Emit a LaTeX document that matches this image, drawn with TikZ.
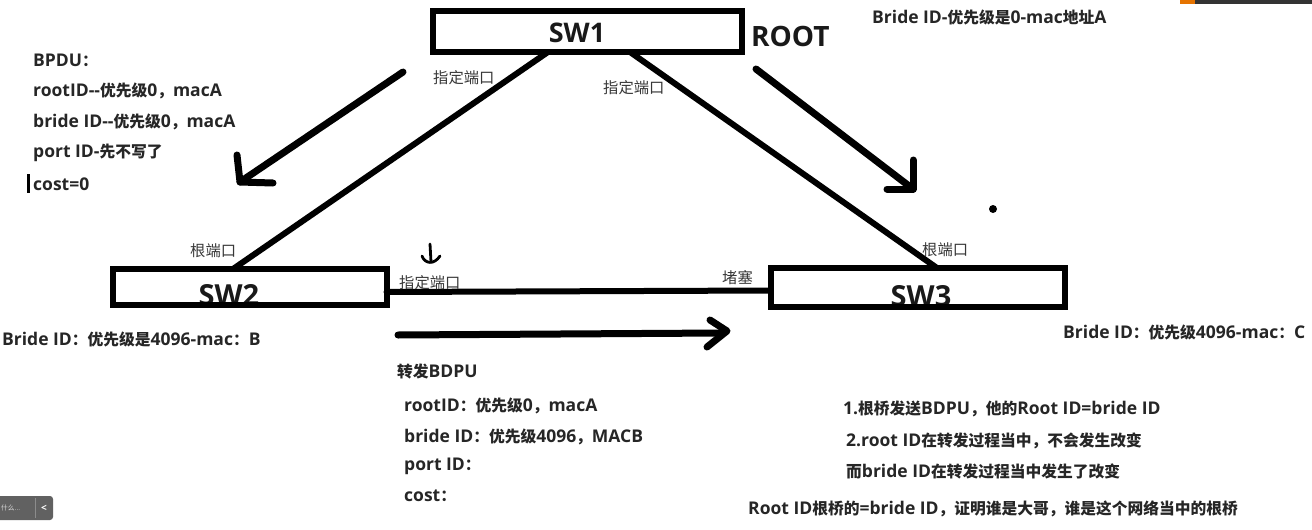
\documentclass[tikz,border=0pt]{standalone}
\usepackage{fontspec}
\setmainfont{Open Sans}
\newfontfamily\cjkfont{Noto Sans CJK SC}[Scale=0.9]
\newcommand{\zh}[1]{{\cjkfont #1}}
\usetikzlibrary{calc}
\tikzset{
  boxline/.style={draw=black, line width=6pt, outer sep=0pt, inner sep=0pt},
  link/.style={draw=black, line width=6pt},
  handarrow/.style={draw=black, line width=7pt, line cap=round, line join=round},
  lbl/.style={anchor=west, inner sep=0pt, font=\bfseries\fontsize{17.5}{19}\selectfont, text=black!85},
  smalllbl/.style={anchor=west, inner sep=0pt, font=\bfseries\fontsize{17.5}{19}\selectfont, text=black!85},
  portlbl/.style={anchor=west, inner sep=0pt, font=\cjkfont\fontsize{17}{18}\selectfont, text=black!78},
  swtext/.style={inner sep=0pt, font=\bfseries\fontsize{27}{30}\selectfont, text=black!90},
}
\begin{document}
\begin{tikzpicture}[x=1pt,y=-1pt]
\useasboundingbox (0,0) rectangle (1312,530);
\fill[white] (0,0) rectangle (1312,530);

% screenshot artefacts
\fill[black!80] (1180,0) rectangle (1312,4);
\fill[orange!90!black] (1180,0) rectangle (1195,4);
\fill[black!62, rounded corners=3pt] (-5,496) rectangle (53,520);
\draw[black!45, line width=0.8pt] (35,498) -- (35,518);
\node[anchor=west, inner sep=0pt, font=\cjkfont\fontsize{7.5}{8}\selectfont, text=white!85!black] (uitxt) at (1,508) {什么...};
\node[inner sep=0pt, font=\bfseries\fontsize{10}{11}\selectfont, text=white] (uiback) at (44,508) {<};

% switches
\node[boxline, fill=white, minimum width=309pt, minimum height=41pt] (sw1) at (587.5,31.5) {};
\node[swtext] (sw1t) at (577,33) {SW1};
\node[boxline, fill=white, minimum width=274pt, minimum height=36pt] (sw2) at (250,287) {};
\node[swtext, font=\bfseries\fontsize{29}{31}\selectfont] (sw2t) at (229,295) {SW2};
\draw[boxline] (sw2.north west) rectangle (sw2.south east);
\node[boxline, fill=white, minimum width=294pt, minimum height=39pt] (sw3) at (918,287.5) {};
\node[swtext, font=\bfseries\fontsize{29}{31}\selectfont] (sw3t) at (921,296.5) {SW3};
\draw[boxline] (sw3.north west) rectangle (sw3.south east);

% link end points on the boxes
\coordinate (s1l) at ($(sw1.south)+(-39.5,0)$);
\coordinate (s1r) at ($(sw1.south)+(42.5,0)$);
\coordinate (s2t) at ($(sw2.north)+(-17,0)$);
\coordinate (s2r) at ($(sw2.east)+(0,5)$);
\coordinate (s3t) at ($(sw3.north)+(19,0)$);
\coordinate (s3l) at ($(sw3.west)+(0,3)$);

\draw[link] (s1l) -- (s2t);
\draw[link] (s1r) -- (s3t);
\draw[link] (s2r) -- (s3l);
\fill[black] (s2r) circle (3.5pt);

% hand drawn arrows
\coordinate (a1s) at (403,72);
\coordinate (a1e) at (240,182);
\draw[handarrow] (a1s) -- (a1e);
\draw[handarrow] (237,155) -- (a1e) -- (273,183);

\coordinate (a2s) at (756,69);
\coordinate (a2e) at (913,189);
\draw[handarrow] (a2s) -- (a2e);
\draw[handarrow] (913,160) -- (a2e) -- (887,189);

\coordinate (a3s) at (398,335);
\coordinate (a3e) at (722,333);
\draw[handarrow] (a3s) -- (a3e);
\draw[handarrow] (710,320) -- (727,331) -- (707,347);

% small mark
\draw[black, line width=2.8pt, line cap=round] (430,244) -- (431,262);
\draw[black, line width=2.8pt, line cap=round] (422,256) .. controls (425,264) and (434,265) .. (440,256);

% dot
\fill[black] (993,209) circle (4pt);

% port labels
\node[portlbl] (p1) at (433,78) {指定端口};
\node[portlbl] (p2) at (603,88) {指定端口};
\node[portlbl] (p3) at (190,251) {根端口};
\node[portlbl] (p4) at (399,283) {指定端口};
\node[portlbl] (p5) at (722,278) {堵塞};
\node[portlbl] (p6) at (922,250) {根端口};

% ROOT
\node[anchor=west, inner sep=0pt, font=\bfseries\fontsize{28}{30}\selectfont, text=black!90] (root) at (751,36) {ROOT};
\node[smalllbl] (bridea) at (872,17) {Bride ID-\zh{优先级是}0-mac\zh{地址}A};

% BPDU left
\node[lbl] (b0) at (33,60) {BPDU\zh{：}};
\node[lbl] (b1) at (33,91) {rootID-{}-\zh{优先级}0\zh{，}macA};
\node[lbl] (b2) at (33,122) {bride ID-{}-\zh{优先级}0\zh{，}macA};
\node[lbl] (b3) at (33,153) {port ID-\zh{先不写了}};
\node[lbl] (b4) at (33,184) {cost=0};
\draw[black, line width=2.2pt] (28.5,174) -- (28.5,193);

% bridge ids
\node[lbl] (bb) at (2,339) {Bride ID\zh{：优先级是}4096-mac\zh{：}B};
\node[lbl] (bc) at (1063,332) {Bride ID\zh{：优先级}4096-mac\zh{：}C};

% forwarded BPDU
\node[lbl] (f0) at (397,372) {\zh{转发}BDPU};
\node[lbl] (f1) at (404,406) {rootID\zh{：优先级}0\zh{，}macA};
\node[lbl] (f2) at (404,437) {bride ID\zh{：优先级}4096\zh{，}MACB};
\node[lbl] (f3) at (404,466) {port ID\zh{：}};
\node[lbl] (f4) at (404,496) {cost\zh{：}};

% notes
\node[lbl] (n1) at (843,409) {1.\zh{根桥发送}BDPU\zh{，他的}Root ID=bride ID};
\node[lbl] (n2) at (846,441) {2.root ID\zh{在转发过程当中，不会发生改变}};
\node[lbl] (n3) at (846,471) {\zh{而}bride ID\zh{在转发过程当中发生了改变}};
\node[lbl] (n4) at (748,509) {Root ID\zh{根桥的}=bride ID\zh{，证明谁是大哥，谁是这个网络当中的根桥}};
\end{tikzpicture}
\end{document}
